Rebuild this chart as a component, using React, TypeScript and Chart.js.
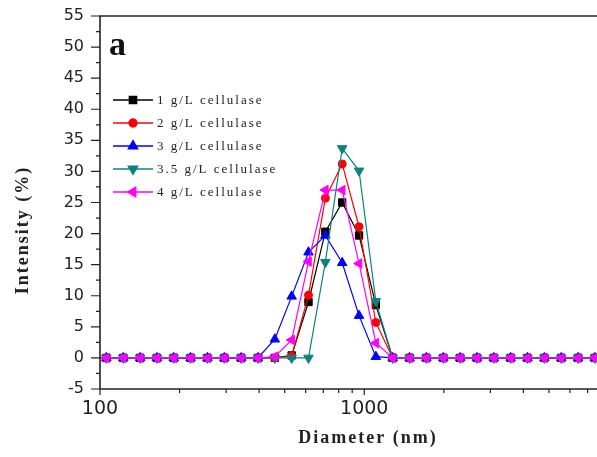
import React, { useEffect, useRef } from "react";
import { Chart, registerables } from "chart.js";
import { drawPoint } from "chart.js/helpers";

Chart.register(...registerables);

// Diameter bins (nm)
const diameters = [
  91.28, 105.7, 122.4, 141.8, 164.2, 190.1, 220.2, 255.0, 295.3, 342.0, 396.1,
  458.7, 531.2, 615.1, 712.4, 825.0, 955.4, 1106, 1281, 1484, 1718, 1990, 2305,
  2669, 3091, 3580, 4145, 4801, 5560, 6439, 7456, 8635,
];

const s1 = [0, 0, 0, 0, 0, 0, 0, 0, 0, 0, 0, 0, 0.4, 9.0, 20.3, 25.0, 19.7, 8.5, 0, 0, 0, 0, 0, 0, 0, 0, 0, 0, 0, 0, 0, 0];
const s2 = [0, 0, 0, 0, 0, 0, 0, 0, 0, 0, 0, 0, 0.3, 10.1, 25.7, 31.2, 21.1, 5.7, 0, 0, 0, 0, 0, 0, 0, 0, 0, 0, 0, 0, 0, 0];
const s3 = [0, 0, 0, 0, 0, 0, 0, 0, 0, 0, 0, 3.0, 9.9, 17.0, 19.7, 15.3, 6.8, 0.2, 0, 0, 0, 0, 0, 0, 0, 0, 0, 0, 0, 0, 0, 0];
const s35 = [0, 0, 0, 0, 0, 0, 0, 0, 0, 0, 0, 0, 0, 0, 15.4, 33.7, 30.1, 9.1, 0, 0, 0, 0, 0, 0, 0, 0, 0, 0, 0, 0, 0, 0];
const s4 = [0, 0, 0, 0, 0, 0, 0, 0, 0, 0, 0, 0.2, 2.9, 15.5, 27.0, 27.0, 15.2, 2.4, 0, 0, 0, 0, 0, 0, 0, 0, 0, 0, 0, 0, 0, 0];

const seriesLabels = ["1 g/L cellulase", "2 g/L cellulase", "3 g/L cellulase", "3.5 g/L cellulase", "4 g/L cellulase"];
const seriesValues = [s1, s2, s3, s35, s4];
const seriesColors = ["#000000", "#ff0000", "#0000ff", "#0f8080", "#ff00ff"];
const seriesStyles = ["rect", "circle", "triangle", "triangle", "triangle"];
const seriesRotations = [0, 0, 0, 180, 270];
const seriesRadii = [5.2, 4, 5.5, 5.5, 5.5];

const xMajorTicks = [100, 1000];
const xMinorTicks = [200, 300, 400, 500, 600, 700, 800, 900, 2000, 3000, 4000, 5000, 6000, 7000];
const yMinorTicks = [-2.5, 2.5, 7.5, 12.5, 17.5, 22.5, 27.5, 32.5, 37.5, 42.5, 47.5, 52.5];

const panelLabel = "a";
const xTitle = "Diameter (nm)";
const yTitle = "Intensity (%)";

const decorPlugin = {
  id: "decor",
  afterDraw(chart: any) {
    const ctx = chart.ctx as CanvasRenderingContext2D;
    const a = chart.chartArea;
    const xs = chart.scales.x;
    const ys = chart.scales.y;
    ctx.save();
    // frame
    ctx.strokeStyle = "#222";
    ctx.lineWidth = 1.6;
    ctx.beginPath();
    ctx.moveTo(a.right + 8, a.top);
    ctx.lineTo(a.left, a.top);
    ctx.lineTo(a.left, a.bottom);
    ctx.lineTo(a.right + 8, a.bottom);
    ctx.stroke();
    // ticks
    ctx.lineWidth = 1.2;
    ctx.beginPath();
    ys.ticks.forEach((t: any) => {
      const y = ys.getPixelForValue(t.value);
      ctx.moveTo(a.left - 9, y);
      ctx.lineTo(a.left, y);
    });
    yMinorTicks.forEach((v) => {
      const y = ys.getPixelForValue(v);
      ctx.moveTo(a.left - 4, y);
      ctx.lineTo(a.left, y);
    });
    xMajorTicks.forEach((v) => {
      const x = xs.getPixelForValue(v);
      ctx.moveTo(x, a.bottom);
      ctx.lineTo(x, a.bottom + 6);
    });
    xMinorTicks.forEach((v) => {
      const x = xs.getPixelForValue(v);
      ctx.moveTo(x, a.bottom);
      ctx.lineTo(x, a.bottom + 4);
    });
    ctx.stroke();

    // legend
    seriesLabels.forEach((lab, i) => {
      const y = 100 + i * 23;
      ctx.strokeStyle = seriesColors[i];
      ctx.fillStyle = seriesColors[i];
      ctx.lineWidth = 1.3;
      ctx.beginPath();
      ctx.moveTo(113, y);
      ctx.lineTo(153, y);
      ctx.stroke();
      drawPoint(ctx, { pointStyle: seriesStyles[i] as any, rotation: seriesRotations[i], radius: seriesRadii[i], borderWidth: 1 } as any, 133, y);
      ctx.fillStyle = "#222";
      (ctx as any).letterSpacing = "2px";
      ctx.font = '13px "Liberation Serif"';
      ctx.textAlign = "left";
      ctx.textBaseline = "middle";
      ctx.fillText(lab, 157, y + 1);
    });

    // panel label
    (ctx as any).letterSpacing = "0px";
    ctx.fillStyle = "#111";
    ctx.font = 'bold 34px "Liberation Serif"';
    ctx.textAlign = "left";
    ctx.textBaseline = "alphabetic";
    ctx.fillText(panelLabel, 109, 55);

    // axis titles
    (ctx as any).letterSpacing = "2px";
    ctx.fillStyle = "#222";
    ctx.font = 'bold 18px "Liberation Serif"';
    ctx.textAlign = "center";
    ctx.textBaseline = "middle";
    ctx.fillText(xTitle, 368, 438);
    ctx.save();
    ctx.translate(23, 230);
    ctx.rotate(-Math.PI / 2);
    ctx.fillText(yTitle, 0, 0);
    ctx.restore();
    ctx.restore();
  },
};

export default function App() {
  const ref = useRef<HTMLCanvasElement>(null);
  useEffect(() => {
    if (!ref.current) return;
    const chart = new Chart(ref.current, {
      type: "line",
      data: {
        datasets: seriesLabels.map((lab, i) => ({
          label: lab,
          data: seriesValues[i].map((v, j) => ({ x: diameters[j], y: v })),
          borderColor: seriesColors[i],
          backgroundColor: seriesColors[i],
          pointBorderColor: seriesColors[i],
          pointBackgroundColor: seriesColors[i],
          borderWidth: 1.2,
          pointStyle: seriesStyles[i] as any,
          pointRotation: seriesRotations[i],
          pointRadius: seriesRadii[i],
          pointBorderWidth: 1,
          tension: 0,
          order: seriesLabels.length - i,
        })),
      },
      options: {
        animation: false,
        responsive: false,
        devicePixelRatio: 1,
        layout: { padding: { top: 16, left: 0, right: 0, bottom: 0 } },
        plugins: { legend: { display: false }, tooltip: { enabled: false } },
        scales: {
          x: {
            type: "logarithmic",
            min: 100,
            max: 7630,
            afterBuildTicks: (s: any) => {
              const all = [...xMajorTicks, ...xMinorTicks].sort((p, q) => p - q);
              s.ticks = all.map((v) => ({ value: v }));
            },
            ticks: {
              autoSkip: false,
              maxRotation: 0,
              minRotation: 0,
              callback: (v: any) => (xMajorTicks.includes(Number(v)) ? String(v) : ""),
              font: { family: "DejaVu Sans", size: 19 },
              color: "#222",
              padding: 9,
            },
            grid: { display: false, drawTicks: false },
            border: { display: false },
            afterFit: (s: any) => {
              s.height = 68;
              s.paddingRight = 0;
              s.paddingLeft = 0;
            },
          },
          y: {
            type: "linear",
            min: -5,
            max: 55,
            ticks: {
              stepSize: 5,
              font: { family: "DejaVu Sans", size: 16 },
              color: "#222",
              padding: 16,
            },
            grid: { display: false, drawTicks: false },
            border: { display: false },
            afterFit: (s: any) => {
              s.width = 100;
              s.paddingTop = 0;
              s.paddingBottom = 0;
            },
          },
        },
      },
      plugins: [decorPlugin],
    });
    return () => chart.destroy();
  }, []);
  return (
    <div style={{ position: "absolute", left: 0, top: 0, width: 597, height: 457, overflow: "hidden", background: "#fff" }}>
      <canvas ref={ref} width={604} height={457} style={{ display: "block" }} />
    </div>
  );
}
